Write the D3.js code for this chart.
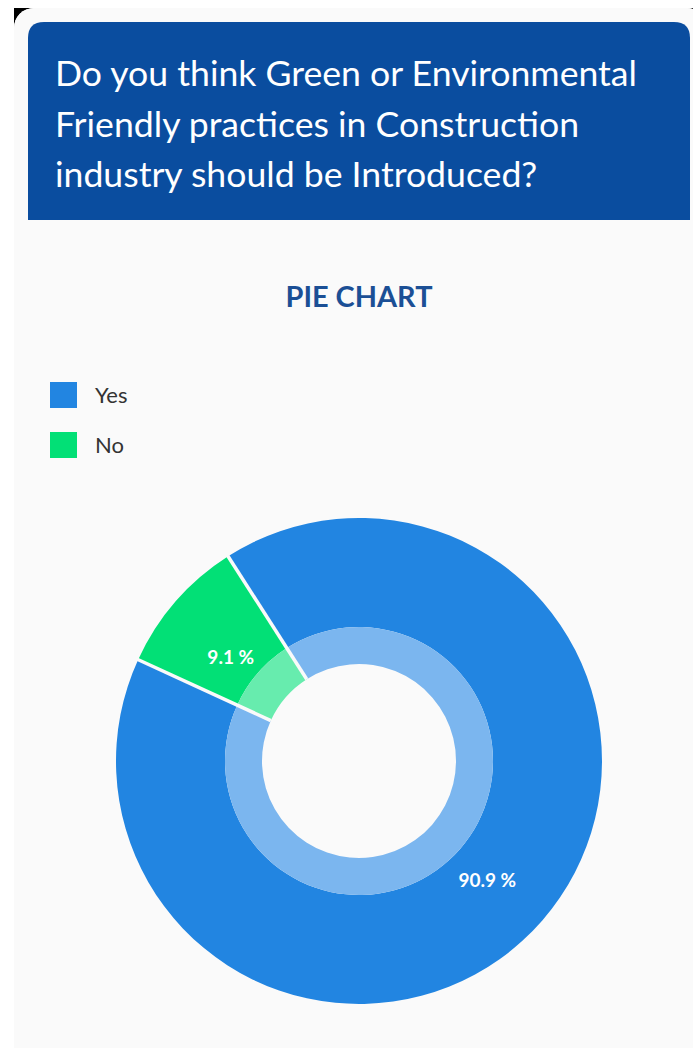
<!DOCTYPE html>
<html>
<head>
<meta charset="utf-8">
<script src="https://cdn.jsdelivr.net/npm/d3@7"></script>
<style>
  html, body { margin: 0; padding: 0; background: #ffffff; }
  svg { display: block; }
</style>
</head>
<body>
<script>
// Survey answers
const categories = ["Yes", "No"];
const shares = [90.9, 9.1];
const labels = ["90.9 %", "9.1 %"];
const colors = ["#2285e1", "#02e076"];
const innerColors = ["#7bb6ef", "#67ecae"];
const questionLines = [
  "Do you think Green or Environmental",
  "Friendly practices in Construction",
  "industry should be Introduced?"
];
const chartTitle = "PIE CHART";

const W = 693, H = 1048;
const svg = d3.select("body").append("svg").attr("width", W).attr("height", H);

// Screen frame with rounded corners
svg.append("rect").attr("x", 14).attr("y", 8).attr("width", W - 14).attr("height", H - 8).attr("fill", "#000");
svg.append("rect").attr("x", 14).attr("y", 8).attr("width", W - 14 + 14).attr("height", H - 8 + 40)
  .attr("rx", 20).attr("fill", "#fafafa");
svg.append("rect").attr("x", 14).attr("y", 8).attr("width", W - 14 + 14).attr("height", H - 8)
  .attr("rx", 20).attr("fill", "#fafafa");

// Header band with rounded top corners
const hx = 28, hy = 22, hw = 662, hh = 198, r = 16;
svg.append("path")
  .attr("d", `M${hx},${hy + hh} V${hy + r} Q${hx},${hy} ${hx + r},${hy} H${hx + hw - r} Q${hx + hw},${hy} ${hx + hw},${hy + r} V${hy + hh} Z`)
  .attr("fill", "#0a4d9f");

// Fit a text element to a target width by adjusting its font size
function fitWidth(sel, target) {
  const node = sel.node();
  const fs = parseFloat(sel.attr("font-size"));
  const w = node.getComputedTextLength();
  if (w > 0) sel.attr("font-size", (fs * target / w).toFixed(2));
}

const qText = svg.append("g").selectAll("text").data(questionLines).join("text")
  .attr("x", 55)
  .attr("y", (d, i) => 86 + i * 50.5)
  .attr("fill", "#ffffff")
  .attr("font-family", "Lato, sans-serif")
  .attr("font-size", 32)
  .text(d => d);
// All lines share the size that gives the first line its width
{
  const first = qText.filter((d, i) => i === 0);
  fitWidth(first, 582);
  qText.attr("font-size", first.attr("font-size"));
}

const title = svg.append("text")
  .attr("x", 359).attr("y", 307)
  .attr("text-anchor", "middle")
  .attr("fill", "#1b4f95")
  .attr("font-family", "Lato, sans-serif")
  .attr("font-weight", 700)
  .attr("font-size", 24)
  .text(chartTitle);
fitWidth(title, 147);

// Legend
const legend = svg.append("g").selectAll("g").data(categories).join("g")
  .attr("transform", (d, i) => `translate(50,${382 + i * 50})`);
legend.append("rect").attr("width", 27).attr("height", 26).attr("fill", (d, i) => colors[i]);
legend.append("text").attr("x", 45).attr("y", 21)
  .attr("fill", "#333")
  .attr("font-family", "Lato, sans-serif")
  .attr("font-size", 22)
  .text(d => d);

// Donut
const cx = 359, cy = 761;
const outerR = 243, midR = 134, innerR = 97;
const startA = -32.6 * Math.PI / 180;
const pie = d3.pie().sort(null).startAngle(startA).endAngle(startA + 2 * Math.PI);
const arcs = pie(shares);

const g = svg.append("g").attr("transform", `translate(${cx},${cy})`);
const outerArc = d3.arc().innerRadius(midR).outerRadius(outerR);
const innerArc = d3.arc().innerRadius(innerR).outerRadius(midR);
const labelArc = d3.arc().innerRadius(innerR).outerRadius(outerR);

g.selectAll("path.outer").data(arcs).join("path").attr("class", "outer")
  .attr("d", outerArc).attr("fill", (d, i) => colors[i]);
g.selectAll("path.inner").data(arcs).join("path").attr("class", "inner")
  .attr("d", innerArc).attr("fill", (d, i) => innerColors[i]);

// White separators between slices
g.selectAll("line.sep").data(arcs).join("line").attr("class", "sep")
  .attr("x1", d => innerR * Math.sin(d.startAngle))
  .attr("y1", d => -innerR * Math.cos(d.startAngle))
  .attr("x2", d => (outerR + 1) * Math.sin(d.startAngle))
  .attr("y2", d => -(outerR + 1) * Math.cos(d.startAngle))
  .attr("stroke", "#fafafa").attr("stroke-width", 3.5);

g.selectAll("text.val").data(arcs).join("text").attr("class", "val")
  .attr("transform", d => {
    const c = labelArc.centroid(d);
    return `translate(${c[0]},${c[1] + 8})`;
  })
  .attr("text-anchor", "middle")
  .attr("dy", "0.35em")
  .attr("fill", "#ffffff")
  .attr("font-family", "Lato, sans-serif")
  .attr("font-weight", 700)
  .attr("font-size", 19)
  .text((d, i) => labels[i]);
</script>
</body>
</html>
